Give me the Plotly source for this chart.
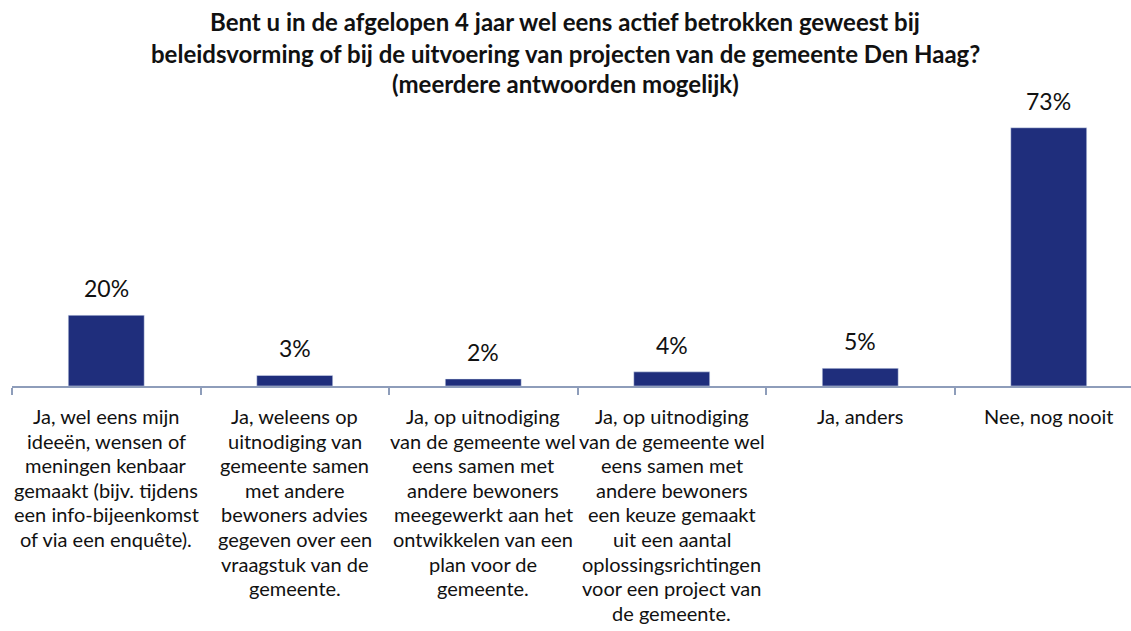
import plotly.graph_objects as go

categories = [
    "Ja, wel eens mijn<br>ideeën, wensen of<br>meningen kenbaar<br>gemaakt (bijv. tijdens<br>een info-bijeenkomst<br>of via een enquête).",
    "Ja, weleens op<br>uitnodiging van<br>gemeente samen<br>met andere<br>bewoners advies<br>gegeven over een<br>vraagstuk van de<br>gemeente.",
    "Ja, op uitnodiging<br>van de gemeente wel<br>eens samen met<br>andere bewoners<br>meegewerkt aan het<br>ontwikkelen van een<br>plan voor de<br>gemeente.",
    "Ja, op uitnodiging<br>van de gemeente wel<br>eens samen met<br>andere bewoners<br>een keuze gemaakt<br>uit een aantal<br>oplossingsrichtingen<br>voor een project van<br>de gemeente.",
    "Ja, anders",
    "Nee, nog nooit",
]
values = [20, 3, 2, 4, 5, 73]
value_labels = ["20%", "3%", "2%", "4%", "5%", "73%"]
title_lines = [
    "Bent u in de afgelopen 4 jaar wel eens actief betrokken geweest bij",
    "beleidsvorming of bij de uitvoering van projecten van de gemeente Den Haag?",
    "(meerdere antwoorden mogelijk)",
]

FONT = "Lato"
BAR = "#1F2E7C"
AXIS = "#8E9DBA"
W, H = 1131, 631
ml, mr, mt, mb = 12, 0, 103, 245
pw, ph = W - ml - mr, H - mt - mb

xs = list(range(len(values)))
fig = go.Figure(go.Bar(x=xs, y=values, width=0.403, marker_color=BAR, hoverinfo="skip"))

ann = []
for i, (v, t) in enumerate(zip(values, value_labels)):
    ann.append(dict(x=i, y=v, xref="x", yref="y", text=t, showarrow=False,
                    yanchor="middle", yshift=27, font=dict(family=FONT, size=23, color="#111")))
LINE = 24.6
for i, c in enumerate(categories):
    for k, line in enumerate(c.split("<br>")):
        ann.append(dict(x=i, y=0, xref="x", yref="y", text=line, showarrow=False,
                        yanchor="middle", yshift=-(30 + LINE * k), align="center",
                        font=dict(family=FONT, size=20, color="#111")))
title_y = [22, 53, 84]
for t, ty in zip(title_lines, title_y):
    ann.append(dict(x=(565 - ml) / pw, y=(H - mb - ty) / ph, xref="paper", yref="paper",
                    text="<b>%s</b>" % t, showarrow=False, xanchor="center", yanchor="middle",
                    font=dict(family=FONT, size=24, color="#111")))

fig.update_layout(
    width=W, height=H,
    margin=dict(l=ml, r=mr, t=mt, b=mb),
    paper_bgcolor="white", plot_bgcolor="white",
    showlegend=False,
    annotations=ann,
    xaxis=dict(range=[-0.5, -0.5 + pw / 188.5], showline=True, linecolor=AXIS, linewidth=1.5,
               ticks="outside", tickcolor=AXIS, ticklen=7, tickwidth=1.5,
               tickvals=[-0.5, 0.5, 1.5, 2.5, 3.5, 4.5, 5.5], showticklabels=False,
               showgrid=False, zeroline=False, fixedrange=True),
    yaxis=dict(range=[0, 80], visible=False, showgrid=False, zeroline=False, fixedrange=True),
)
fig.write_html("out.html", config={"displayModeBar": False},
               post_script="document.body.style.margin='0';document.body.style.overflow='hidden';")
